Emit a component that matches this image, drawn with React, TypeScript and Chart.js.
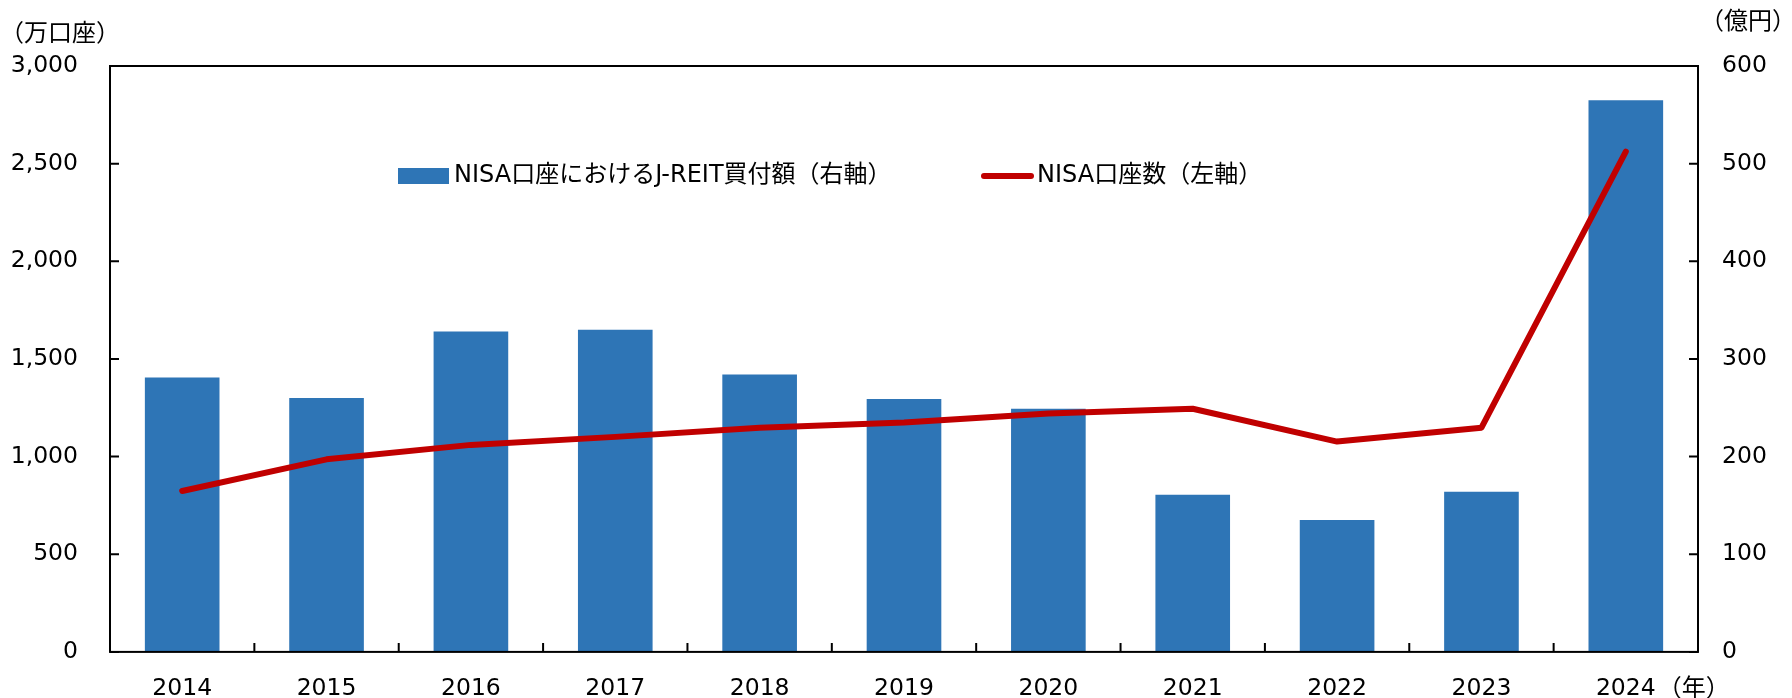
import React, { useEffect, useRef } from "react";
import { Chart, registerables } from "chart.js";

Chart.register(...registerables);

const years = ["2014", "2015", "2016", "2017", "2018", "2019", "2020", "2021", "2022", "2023", "2024"];
// NISA口座におけるJ-REIT買付額（右軸, 億円）
const reitPurchase = [281, 260, 328, 330, 284, 259, 249, 161, 135, 164, 565];
// NISA口座数（左軸, 万口座）
const nisaAccounts = [824, 986, 1060, 1101, 1148, 1174, 1221, 1245, 1077, 1148, 2562];

const barLabel = "NISA口座におけるJ-REIT買付額（右軸）";
const lineLabel = "NISA口座数（左軸）";
const leftTitle = "（万口座）";
const rightTitle = "（億円）";
const yearUnit = "（年）";

const BAR_COLOR = "#2E75B6";
const LINE_COLOR = "#C00000";
const TICK_FONT = '"DejaVu Sans", "Noto Sans CJK JP", sans-serif';
const CJK_FONT = '"DejaVu Sans", "Noto Sans CJK JP", sans-serif';

const framePlugin = {
  id: "frameAndExtras",
  afterDraw(chart: any) {
    const { ctx, chartArea, scales } = chart;
    const { left, right, top, bottom } = chartArea;
    ctx.save();
    ctx.strokeStyle = "#000";
    ctx.lineWidth = 2;
    ctx.lineCap = "butt";
    ctx.strokeRect(left, top, right - left, bottom - top);
    const tl = 9;
    ctx.beginPath();
    scales.yL.ticks.forEach((t: any) => {
      const y = scales.yL.getPixelForValue(t.value);
      ctx.moveTo(left, y);
      ctx.lineTo(left + tl, y);
    });
    scales.yR.ticks.forEach((t: any) => {
      const y = scales.yR.getPixelForValue(t.value);
      ctx.moveTo(right, y);
      ctx.lineTo(right - tl, y);
    });
    for (let i = 1; i < years.length; i++) {
      const x = (scales.x.getPixelForValue(i - 1) + scales.x.getPixelForValue(i)) / 2;
      ctx.moveTo(x, bottom);
      ctx.lineTo(x, bottom - tl);
    }
    ctx.stroke();

    // legend
    ctx.fillStyle = BAR_COLOR;
    ctx.fillRect(398, 168, 51, 16);
    ctx.strokeStyle = LINE_COLOR;
    ctx.lineWidth = 6;
    ctx.lineCap = "round";
    ctx.beginPath();
    ctx.moveTo(984, 176);
    ctx.lineTo(1031, 176);
    ctx.stroke();
    ctx.fillStyle = "#000";
    ctx.textBaseline = "middle";
    ctx.textAlign = "left";
    ctx.font = `24px ${CJK_FONT}`;
    ctx.fillText(barLabel, 454, 176);
    ctx.fillText(lineLabel, 1037, 176);

    // axis titles
    ctx.font = `24px ${CJK_FONT}`;
    ctx.fillText(leftTitle, 0, 35);
    ctx.fillText(rightTitle, 1700, 23);
    const lastX = scales.x.getPixelForValue(years.length - 1);
    ctx.fillText(yearUnit, lastX + 32, 690);
    ctx.restore();
  },
};

export default function App() {
  const ref = useRef<HTMLCanvasElement>(null);
  useEffect(() => {
    document.body.style.margin = "0";
    const chart = new Chart(ref.current as HTMLCanvasElement, {
      type: "bar",
      data: {
        labels: years,
        datasets: [
          {
            type: "line",
            label: lineLabel,
            data: nisaAccounts,
            yAxisID: "yL",
            borderColor: LINE_COLOR,
            backgroundColor: LINE_COLOR,
            borderWidth: 6,
            borderCapStyle: "round",
            borderJoinStyle: "round",
            pointRadius: 0,
            tension: 0,
            order: 0,
          } as any,
          {
            type: "bar",
            label: barLabel,
            data: reitPurchase,
            yAxisID: "yR",
            backgroundColor: BAR_COLOR,
            barPercentage: 0.517,
            categoryPercentage: 1,
            order: 1,
          },
        ],
      },
      options: {
        responsive: true,
        maintainAspectRatio: false,
        animation: false,
        layout: { padding: { top: 66, left: 0, right: 0, bottom: 0 } },
        plugins: { legend: { display: false }, tooltip: { enabled: false } },
        scales: {
          x: {
            grid: { display: false, drawTicks: false },
            border: { display: false },
            ticks: { color: "#000", font: { family: TICK_FONT, size: 23.5 }, padding: 23, maxRotation: 0 },
            afterFit: (s: any) => {
              s.height = 45;
            },
          },
          yL: {
            position: "left",
            min: 0,
            max: 3000,
            grid: { display: false, drawTicks: false },
            border: { display: false },
            ticks: {
              stepSize: 500,
              color: "#000",
              font: { family: TICK_FONT, size: 23.5 },
              padding: 32,
              callback: (v: any) => Number(v).toLocaleString("en-US"),
            },
            afterFit: (s: any) => {
              s.width = 110;
            },
          },
          yR: {
            position: "right",
            min: 0,
            max: 600,
            grid: { display: false, drawTicks: false },
            border: { display: false },
            ticks: { stepSize: 100, color: "#000", font: { family: TICK_FONT, size: 23.5 }, padding: 24 },
            afterFit: (s: any) => {
              s.width = 94;
            },
          },
        },
      },
      plugins: [framePlugin],
    });
    return () => chart.destroy();
  }, []);
  return (
    <div style={{ position: "fixed", left: 0, top: 0, width: 1792, height: 698, background: "#fff" }}>
      <canvas ref={ref} />
    </div>
  );
}
